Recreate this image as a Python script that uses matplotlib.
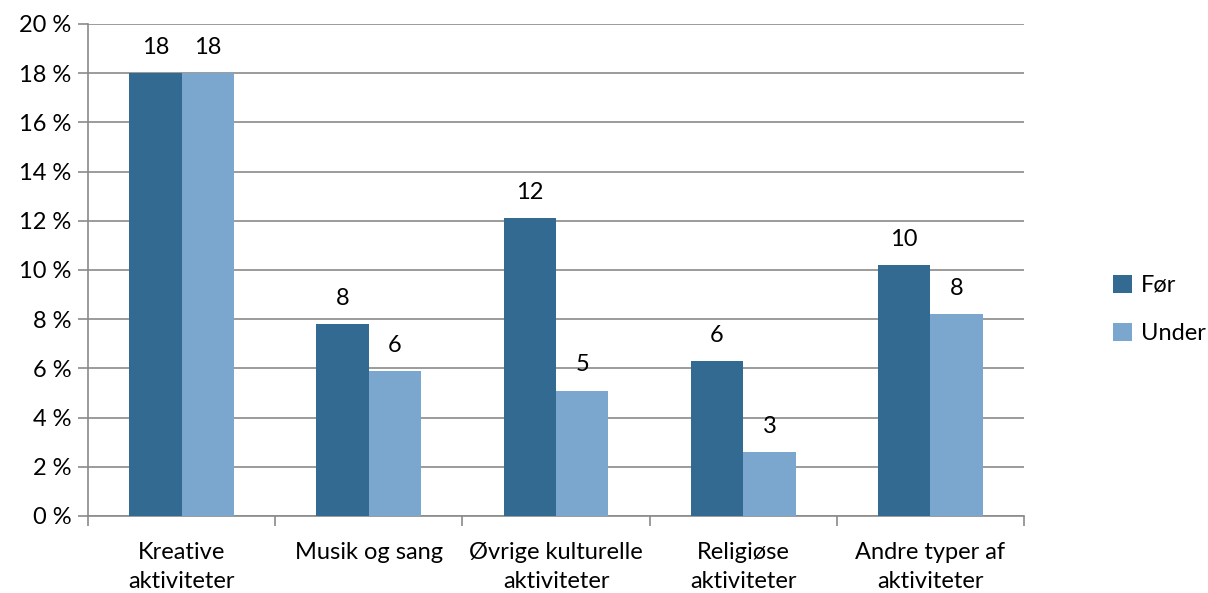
import matplotlib
matplotlib.use("Agg")
import matplotlib.pyplot as plt
import numpy as np
from matplotlib.ticker import FixedLocator, FuncFormatter

plt.rcParams["font.family"] = ["Lato", "DejaVu Sans"]

CATEGORIES = [
    "Kreative\naktiviteter",
    "Musik og sang",
    "Øvrige kulturelle\naktiviteter",
    "Religiøse\naktiviteter",
    "Andre typer af\naktiviteter",
]
FOR_VALUES = [18.0, 7.8, 12.1, 6.3, 10.2]
UNDER_VALUES = [18.0, 5.9, 5.1, 2.6, 8.2]
SERIES_NAMES = ["Før", "Under"]
COLORS = ["#336A91", "#7BA7CF"]

FS = 17

fig = plt.figure(figsize=(12.08, 5.93), dpi=100)
ax = fig.add_axes([88 / 1208, 1 - 516 / 593, (1024 - 88) / 1208, (516 - 24) / 593])

x = np.arange(len(CATEGORIES))
w = 0.28
for k, (vals, name, col) in enumerate(zip([FOR_VALUES, UNDER_VALUES], SERIES_NAMES, COLORS)):
    b = ax.bar(x + (k - 0.5) * w, vals, width=w, color=col, label=name, zorder=3)
    for rect, v in zip(b, vals):
        ax.annotate(f"{v:.0f}", (rect.get_x() + rect.get_width() / 2, v),
                    xytext=(0, 11), textcoords="offset points",
                    ha="center", va="bottom", fontsize=FS, color="black")

ax.set_xlim(-0.5, len(CATEGORIES) - 0.5)
ax.set_ylim(0, 20)
ax.set_yticks(np.arange(0, 21, 2))
ax.yaxis.set_major_formatter(FuncFormatter(lambda v, p: f"{v:.0f} %"))
ax.grid(axis="y", color="#8a8a8a", lw=1.2, zorder=0)

# category boundaries as major ticks, labels on centered minor ticks
ax.xaxis.set_major_locator(FixedLocator(np.arange(-0.5, len(CATEGORIES), 1.0)))
ax.xaxis.set_major_formatter(FuncFormatter(lambda v, p: ""))
ax.xaxis.set_minor_locator(FixedLocator(x))
ax.set_xticklabels(CATEGORIES, minor=True, linespacing=1.45)
ax.tick_params(axis="x", which="major", length=7, color="#8a8a8a", width=1.2)
ax.tick_params(axis="x", which="minor", length=0, pad=19, labelsize=FS)
ax.tick_params(axis="y", length=7, color="#8a8a8a", width=1.2, labelsize=FS, pad=5)

for s in ["top", "right"]:
    ax.spines[s].set_visible(False)
for s in ["left", "bottom"]:
    ax.spines[s].set_color("#8a8a8a")
    ax.spines[s].set_linewidth(1.2)

ax.legend(loc="center left", bbox_to_anchor=(1.095, 0.42), frameon=False,
          fontsize=FS, handlelength=0.8, handleheight=0.8, handletextpad=0.4,
          labelspacing=1.15, borderpad=0, borderaxespad=0)

fig.savefig("out.png", dpi=100, facecolor="white")
